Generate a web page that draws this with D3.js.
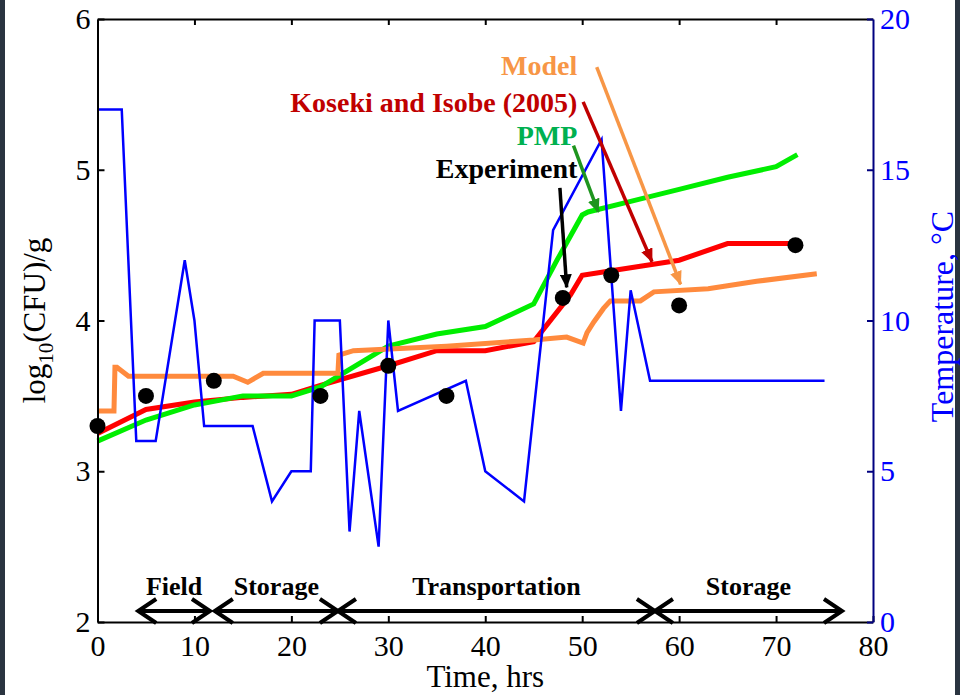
<!DOCTYPE html>
<html>
<head>
<meta charset="utf-8">
<script src="https://cdn.jsdelivr.net/npm/d3@7"></script>
<style>
  body { margin: 0; background: #fff; }
  text { font-family: "Liberation Serif", "Times New Roman", serif; }
</style>
</head>
<body>
<script>
// data
var expTime = [0, 5, 12, 23, 30, 36, 48, 53, 60, 72];
var expVal = [3.3, 3.5, 3.6, 3.5, 3.7, 3.5, 4.15, 4.3, 4.1, 4.5];

var kosekiTime = [0, 5, 10, 15, 20, 23, 30, 35, 40, 45, 48.8, 50, 53, 56, 60, 65, 71.5];
var kosekiVal = [3.25, 3.41, 3.46, 3.49, 3.51, 3.57, 3.70, 3.80, 3.80, 3.86, 4.17, 4.30, 4.33, 4.36, 4.40, 4.51, 4.51];

var pmpTime = [0, 5, 10, 15, 20, 23, 30, 35, 40, 45, 47.4, 50, 50.6, 55, 60, 65, 70, 72.2];
var pmpVal = [3.2, 3.34, 3.44, 3.5, 3.5, 3.56, 3.83, 3.91, 3.96, 4.11, 4.40, 4.70, 4.72, 4.79, 4.87, 4.95, 5.02, 5.10];

var modelTime = [0, 1.7, 1.8, 2.0, 3.2, 14, 15.5, 17.1, 24.8, 24.9, 26.4, 36, 45, 48.4, 50.1, 50.5, 51.2, 52.2, 52.9, 56, 57.4, 63, 68, 74.2];
var modelVal = [3.40, 3.40, 3.69, 3.69, 3.63, 3.63, 3.59, 3.65, 3.65, 3.77, 3.80, 3.83, 3.87, 3.89, 3.85, 3.92, 3.99, 4.08, 4.13, 4.13, 4.19, 4.21, 4.26, 4.31];

var tempTime = [0, 2.5, 4, 6, 9, 10, 11, 16, 18, 20, 22, 22.4, 25, 26, 27, 29, 30, 31, 38, 40, 44, 47, 52, 54, 55, 57, 75];
var tempVal = [17, 17, 6, 6, 12, 10, 6.5, 6.5, 4, 5, 5, 10, 10, 3, 7, 2.5, 10, 7, 8, 5, 4, 13, 16, 7, 11, 8, 8];

var xTicks = [0, 10, 20, 30, 40, 50, 60, 70, 80];
var yTicks = [2, 3, 4, 5, 6];
var tTicks = [0, 5, 10, 15, 20];

var phaseNames = ["Field", "Storage", "Transportation", "Storage"];
var phaseStart = [4.2, 12.1, 24.8, 57.5];
var phaseEnd = [11.6, 24.8, 57.5, 76.8];

var annoLabels = ["Model", "Koseki and Isobe (2005)", "PMP", "Experiment"];
var annoTextY = [5.63, 5.385, 5.164, 4.943];
var arrowFrom = [[51.5, 5.68], [50.1, 5.45], [49.1, 5.16], [47.7, 4.88]];
var arrowTo = [[60.15, 4.24], [57.2, 4.39], [51.66, 4.72], [48.4, 4.22]];
var annoText = ["#f79646", "#c00000", "#00b050", "#000000"];
var annoArrow = ["#f79646", "#c00000", "#1e951e", "#000000"];

var W = 960, H = 695;
var margin = {left: 97.5, right: 87, top: 19, bottom: 73};
var w = W - margin.left - margin.right;
var h = H - margin.top - margin.bottom;

var svg = d3.select("body").append("svg")
  .attr("width", W)
  .attr("height", H);

svg.append("rect").attr("width", W).attr("height", H).attr("fill", "#fff");
svg.append("rect").attr("x", 0).attr("width", 5).attr("height", H).attr("fill", "#2a3440");
svg.append("rect").attr("x", W - 5).attr("width", 5).attr("height", H).attr("fill", "#2a3440");

var x = d3.scaleLinear().domain([0, 80]).range([0, w]);
var y = d3.scaleLinear().domain([2, 6]).range([h, 0]);
var yT = d3.scaleLinear().domain([0, 20]).range([h, 0]);

var g = svg.append("g").attr("transform", "translate(" + margin.left + "," + margin.top + ")");

// lines
var line = d3.line().x(function(d) { return x(d[0]); }).y(function(d) { return y(d[1]); });
var tline = d3.line().x(function(d) { return x(d[0]); }).y(function(d) { return yT(d[1]); });

function pairs(a, b) { return a.map(function(v, i) { return [v, b[i]]; }); }

g.append("path").datum(pairs(kosekiTime, kosekiVal))
  .attr("d", line).attr("fill", "none").attr("stroke", "#ff0000").attr("stroke-width", 5);
g.append("path").datum(pairs(pmpTime, pmpVal))
  .attr("d", line).attr("fill", "none").attr("stroke", "#00ee00").attr("stroke-width", 5);
g.append("path").datum(pairs(modelTime, modelVal))
  .attr("d", line).attr("fill", "none").attr("stroke", "#ff8a3d").attr("stroke-width", 5);
g.append("path").datum(pairs(tempTime, tempVal))
  .attr("d", tline).attr("fill", "none").attr("stroke", "#0000ff").attr("stroke-width", 2.5);

g.selectAll("circle.exp")
  .data(pairs(expTime, expVal))
  .enter()
  .append("circle")
  .attr("class", "exp")
  .attr("cx", function(d) { return x(d[0]); })
  .attr("cy", function(d) { return y(d[1]); })
  .attr("r", 8)
  .attr("fill", "#000");

// axes
var fontSize = "30px";
var ax = g.append("g").attr("transform", "translate(0," + h + ")")
  .call(d3.axisBottom(x).tickValues(xTicks).tickSize(-6).tickSizeOuter(0).tickPadding(13));
var axTop = g.append("g")
  .call(d3.axisTop(x).tickValues(xTicks.slice(1, -1)).tickSize(-6).tickSizeOuter(0).tickFormat(""));
var ayL = g.append("g")
  .call(d3.axisLeft(y).tickValues(yTicks).tickSize(-7).tickSizeOuter(0).tickPadding(7).tickFormat(d3.format("d")));
var ayR = g.append("g").attr("transform", "translate(" + w + ",0)")
  .call(d3.axisRight(yT).tickValues(tTicks).tickSize(-6).tickSizeOuter(0).tickPadding(7).tickFormat(d3.format("d")));

[ax, axTop, ayL].forEach(function(a) {
  a.select(".domain").attr("stroke", "#000").attr("stroke-width", 2);
  a.selectAll(".tick line").attr("stroke", "#000").attr("stroke-width", 2);
  a.selectAll("text").attr("font-size", fontSize).attr("fill", "#000")
    .style("font-family", "'Liberation Serif', 'Times New Roman', serif");
});
ayR.select(".domain").attr("stroke", "#000080").attr("stroke-width", 2);
ayR.selectAll(".tick line").attr("stroke", "#000080").attr("stroke-width", 2);
ayR.selectAll("text").attr("font-size", fontSize).attr("fill", "#0000ff")
  .style("font-family", "'Liberation Serif', 'Times New Roman', serif");

// axis titles
g.append("text")
  .attr("x", w / 2).attr("y", h + 65)
  .attr("text-anchor", "middle")
  .attr("font-size", "31px")
  .text("Time, hrs");

var yl = g.append("text")
  .attr("transform", "translate(" + (45 - margin.left) + "," + (h / 2) + ") rotate(-90)")
  .attr("text-anchor", "middle")
  .attr("font-size", "31px");
yl.append("tspan").text("log");
yl.append("tspan").attr("font-size", "21px").attr("dy", 8).text("10");
yl.append("tspan").attr("dy", -8).text("(CFU)/g");

g.append("text")
  .attr("transform", "translate(" + (953 - margin.left) + "," + (h / 2 - 4) + ") rotate(-90)")
  .attr("text-anchor", "middle")
  .attr("font-size", "32px")
  .attr("fill", "#0000ff")
  .text("Temperature, \u00b0C");

// phase arrows along the bottom
var py = y(2.073);
var cw = 18, ch = 12;
phaseNames.forEach(function(name, i) {
  var a = x(phaseStart[i]), b = x(phaseEnd[i]);
  g.append("path")
    .attr("d", "M" + a + "," + py + "H" + b +
      "M" + (a + cw) + "," + (py - ch) + "L" + a + "," + py + "L" + (a + cw) + "," + (py + ch) +
      "M" + (b - cw) + "," + (py - ch) + "L" + b + "," + py + "L" + (b - cw) + "," + (py + ch))
    .attr("fill", "none").attr("stroke", "#000").attr("stroke-width", 4);
  g.append("text")
    .attr("x", (a + b) / 2).attr("y", y(2.18))
    .attr("text-anchor", "middle")
    .attr("font-size", "26px").attr("font-weight", "bold")
    .text(name);
});

// annotations
var defs = svg.append("defs");
annoLabels.forEach(function(lab, i) {
  defs.append("marker")
    .attr("id", "ah" + i)
    .attr("markerUnits", "userSpaceOnUse")
    .attr("viewBox", "0 0 14 12")
    .attr("refX", 13).attr("refY", 6)
    .attr("markerWidth", 14).attr("markerHeight", 12)
    .attr("orient", "auto")
    .append("path").attr("d", "M0,0L14,6L0,12Z").attr("fill", annoArrow[i]);

  g.append("line")
    .attr("x1", x(arrowFrom[i][0])).attr("y1", y(arrowFrom[i][1]))
    .attr("x2", x(arrowTo[i][0])).attr("y2", y(arrowTo[i][1]))
    .attr("stroke", annoArrow[i]).attr("stroke-width", 3.5)
    .attr("marker-end", "url(#ah" + i + ")");

  g.append("text")
    .attr("x", x(49.5)).attr("y", y(annoTextY[i]))
    .attr("text-anchor", "end")
    .attr("font-size", "28px").attr("font-weight", "bold")
    .attr("fill", annoText[i])
    .text(lab);
});
</script>
</body>
</html>
